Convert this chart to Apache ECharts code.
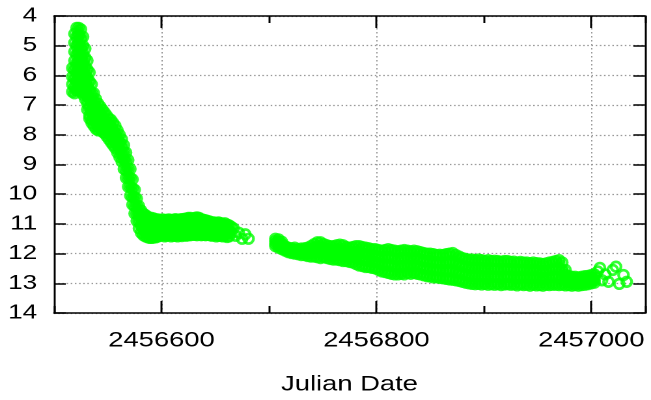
<!DOCTYPE html>
<html>
<head>
<meta charset="utf-8">
<script src="https://cdn.jsdelivr.net/npm/echarts@6/dist/echarts.min.js"></script>
<style>
  html, body { margin: 0; padding: 0; background: #fff; overflow: hidden; }
  /* the original plot is stretched sideways, so draw narrow and widen */
  #chart { width: 500px; height: 400px; transform: scaleX(1.302); transform-origin: 0 0; }
</style>
</head>
<body>
<div id="chart"></div>
<script>
// tick values
const xMajorTicks = [2456600, 2456800, 2457000];

// outburst peak and decline: one date, several magnitudes seen that night
const riseJd = [2456517, 2456519, 2456521, 2456523, 2456525, 2456527, 2456529, 2456531, 2456533,
  2456535, 2456537, 2456539, 2456541, 2456543, 2456545, 2456547, 2456549, 2456551, 2456553,
  2456555, 2456557, 2456559, 2456561, 2456563, 2456565, 2456567, 2456569, 2456571, 2456573,
  2456575, 2456577, 2456579, 2456581, 2456583, 2456585, 2456587, 2456589, 2456591, 2456593, 2456595];
const riseMag = [
  [5.75, 6.05, 6.3, 6.55],
  [4.6, 4.9, 5.2, 5.5, 5.8, 6.1, 6.4, 6.6],
  [4.4, 4.7, 5.0, 5.3, 5.6, 5.9, 6.2, 6.5],
  [4.4, 4.65, 4.95, 5.25, 5.55, 5.85, 6.15, 6.45],
  [4.45, 4.75, 5.05, 5.35, 5.65, 5.95, 6.25, 6.55],
  [4.7, 5.0, 5.3, 5.6, 5.9, 6.2, 6.5, 6.65],
  [5.1, 5.4, 5.7, 6.0, 6.3, 6.6, 6.8],
  [5.5, 5.8, 6.1, 6.4, 6.7, 6.95, 7.15],
  [5.9, 6.2, 6.5, 6.8, 7.1, 7.35, 7.45],
  [6.3, 6.6, 6.9, 7.2, 7.5, 7.6],
  [6.6, 6.85, 7.1, 7.4, 7.7],
  [6.8, 7.05, 7.3, 7.55, 7.8],
  [6.95, 7.2, 7.45, 7.7, 7.85],
  [7.05, 7.3, 7.55, 7.8],
  [7.15, 7.4, 7.65, 7.9],
  [7.25, 7.5, 7.75, 7.95],
  [7.35, 7.6, 7.85, 8.05],
  [7.45, 7.7, 7.95, 8.15],
  [7.5, 7.75, 8.0, 8.25],
  [7.6, 7.85, 8.1, 8.35],
  [7.7, 7.95, 8.2, 8.45],
  [7.85, 8.1, 8.35, 8.6],
  [8.0, 8.25, 8.5, 8.75],
  [8.15, 8.4, 8.65, 8.9],
  [8.35, 8.6, 8.85, 9.15],
  [8.6, 8.9, 9.2, 9.45],
  [8.85, 9.15, 9.45, 9.75],
  [9.15, 9.45, 9.75, 10.05],
  [9.5, 9.8, 10.1, 10.35],
  [9.85, 10.1, 10.4, 10.65],
  [10.15, 10.4, 10.65, 10.9],
  [10.4, 10.65, 10.9, 11.15],
  [10.55, 10.8, 11.05, 11.3],
  [10.65, 10.9, 11.15, 11.38],
  [10.7, 10.95, 11.2, 11.42],
  [10.75, 11.0, 11.25, 11.45],
  [10.8, 11.05, 11.3, 11.47],
  [10.8, 11.05, 11.3, 11.47],
  [10.82, 11.08, 11.32, 11.46],
  [10.85, 11.1, 11.35, 11.45]
];

// plateau near mag 11
const plateauJd = [2456597, 2456599, 2456601, 2456603, 2456605, 2456607, 2456609, 2456611, 2456613, 2456615,
  2456617, 2456619, 2456621, 2456623, 2456625, 2456627, 2456629, 2456631, 2456633, 2456635,
  2456637, 2456639, 2456641, 2456643, 2456645, 2456647, 2456649, 2456651, 2456653, 2456655,
  2456657, 2456659, 2456661, 2456663, 2456665];
const plateauMag = [
  [10.85, 11.12, 11.42], [10.88, 11.15, 11.4], [10.85, 11.1, 11.38], [10.87, 11.18, 11.42], [10.86, 11.12, 11.4],
  [10.85, 11.15, 11.38], [10.87, 11.12, 11.42], [10.86, 11.17, 11.4], [10.84, 11.1, 11.4], [10.86, 11.15, 11.42],
  [10.85, 11.12, 11.39], [10.84, 11.16, 11.41], [10.83, 11.1, 11.38], [10.82, 11.12, 11.4], [10.8, 11.08, 11.38],
  [10.8, 11.1, 11.38], [10.82, 11.12, 11.36], [10.8, 11.05, 11.37], [10.78, 11.1, 11.38], [10.8, 11.08, 11.36],
  [10.84, 11.12, 11.38], [10.86, 11.1, 11.37], [10.88, 11.14, 11.38], [10.9, 11.12, 11.37], [10.92, 11.15, 11.38],
  [10.95, 11.18, 11.4], [10.95, 11.16, 11.38], [10.97, 11.2, 11.42], [10.95, 11.18, 11.4], [10.97, 11.2, 11.4],
  [11.0, 11.22, 11.42], [10.98, 11.2, 11.4], [11.02, 11.25, 11.44], [11.05, 11.25, 11.42], [11.1, 11.3]
];

// scattered points after the plateau, before the seasonal gap
const lateJd = [2456667, 2456669, 2456672, 2456675, 2456678, 2456681];
const lateMag = [11.15, 11.4, 11.3, 11.5, 11.35, 11.5];

// slow fade after the gap: four magnitudes per date
const tailJd = [2456706, 2456709, 2456712, 2456715, 2456718, 2456721, 2456724, 2456727, 2456730, 2456733,
  2456736, 2456739, 2456742, 2456745, 2456748, 2456751, 2456754, 2456757, 2456760, 2456763,
  2456766, 2456769, 2456772, 2456775, 2456778, 2456781, 2456784, 2456787, 2456790, 2456793,
  2456796, 2456799, 2456802, 2456805, 2456808, 2456811, 2456814, 2456817, 2456820, 2456823,
  2456826, 2456829, 2456832, 2456835, 2456838, 2456841, 2456844, 2456847, 2456850, 2456853,
  2456856, 2456859, 2456862, 2456865, 2456868, 2456871, 2456874, 2456877, 2456880, 2456883,
  2456886, 2456889, 2456892, 2456895, 2456898, 2456901, 2456904, 2456907, 2456910, 2456913,
  2456916, 2456919, 2456922, 2456925, 2456928, 2456931, 2456934, 2456937, 2456940, 2456943,
  2456946, 2456949, 2456952, 2456955, 2456958, 2456961, 2456964, 2456967, 2456970, 2456973,
  2456976, 2456979, 2456982, 2456985, 2456988, 2456991, 2456994, 2456997, 2457000, 2457003];
const tailMag = [
  [11.5, 11.58, 11.67, 11.75], [11.52, 11.6, 11.7, 11.8], [11.6, 11.68, 11.77, 11.85], [11.75, 11.8, 11.86, 11.9],
  [11.8, 11.85, 11.9, 11.95], [11.82, 11.87, 11.93, 11.98], [11.8, 11.87, 11.94, 12.0], [11.85, 11.9, 11.96, 12.02],
  [11.83, 11.9, 11.98, 12.05], [11.82, 11.9, 11.98, 12.05], [11.8, 11.9, 11.99, 12.08], [11.75, 11.87, 11.98, 12.1],
  [11.68, 11.82, 11.96, 12.1], [11.62, 11.79, 11.95, 12.12], [11.62, 11.8, 11.97, 12.15], [11.68, 11.83, 11.97, 12.12],
  [11.72, 11.86, 12.01, 12.15], [11.75, 11.89, 12.04, 12.18], [11.75, 11.9, 12.05, 12.2], [11.72, 11.88, 12.04, 12.2],
  [11.7, 11.87, 12.05, 12.22], [11.72, 11.9, 12.07, 12.25], [11.78, 11.94, 12.09, 12.25], [11.8, 11.96, 12.12, 12.28],
  [11.78, 11.96, 12.13, 12.3], [11.75, 11.95, 12.15, 12.35], [11.75, 11.97, 12.18, 12.4], [11.78, 11.99, 12.2, 12.42],
  [11.8, 12.02, 12.23, 12.45], [11.82, 12.03, 12.24, 12.45], [11.85, 12.06, 12.27, 12.48], [11.85, 12.07, 12.28, 12.5],
  [11.88, 12.1, 12.33, 12.55], [11.9, 12.13, 12.37, 12.6], [11.88, 12.13, 12.37, 12.62], [11.85, 12.12, 12.38, 12.65],
  [11.88, 12.15, 12.41, 12.68], [11.9, 12.17, 12.43, 12.7], [11.92, 12.18, 12.44, 12.7], [11.9, 12.16, 12.42, 12.68],
  [11.88, 12.15, 12.43, 12.7], [11.9, 12.15, 12.4, 12.65], [11.92, 12.17, 12.43, 12.68], [11.9, 12.15, 12.4, 12.65],
  [11.92, 12.17, 12.42, 12.68], [11.95, 12.2, 12.45, 12.7], [11.98, 12.23, 12.48, 12.73], [12.0, 12.25, 12.5, 12.76],
  [12.0, 12.26, 12.51, 12.77], [12.02, 12.28, 12.54, 12.8], [12.05, 12.3, 12.55, 12.8], [12.04, 12.3, 12.56, 12.82],
  [12.05, 12.31, 12.57, 12.83], [12.02, 12.3, 12.57, 12.85], [12.0, 12.29, 12.58, 12.87], [11.98, 12.28, 12.58, 12.88],
  [12.05, 12.33, 12.62, 12.9], [12.1, 12.37, 12.65, 12.92], [12.15, 12.42, 12.68, 12.95], [12.18, 12.45, 12.72, 12.98],
  [12.2, 12.47, 12.73, 13.0], [12.2, 12.48, 12.75, 13.02], [12.22, 12.49, 12.76, 13.03], [12.2, 12.48, 12.75, 13.02],
  [12.22, 12.5, 12.77, 13.04], [12.25, 12.51, 12.77, 13.02], [12.22, 12.5, 12.78, 13.05], [12.25, 12.51, 12.77, 13.03],
  [12.24, 12.51, 12.78, 13.05], [12.25, 12.51, 12.77, 13.03], [12.27, 12.53, 12.8, 13.06], [12.25, 12.52, 12.78, 13.04],
  [12.25, 12.51, 12.77, 13.03], [12.28, 12.54, 12.8, 13.05], [12.27, 12.53, 12.79, 13.04], [12.3, 12.56, 12.82, 13.07],
  [12.28, 12.54, 12.79, 13.04], [12.3, 12.56, 12.81, 13.06], [12.3, 12.55, 12.8, 13.05], [12.32, 12.57, 12.83, 13.08],
  [12.3, 12.55, 12.8, 13.05], [12.32, 12.57, 12.82, 13.07], [12.33, 12.58, 12.82, 13.06], [12.35, 12.6, 12.84, 13.08],
  [12.33, 12.57, 12.81, 13.05], [12.3, 12.55, 12.81, 13.06], [12.28, 12.54, 12.8, 13.05], [12.25, 12.52, 12.79, 13.05],
  [12.22, 12.5, 12.78, 13.06], [12.3, 12.55, 12.8, 13.05], [12.55, 12.72, 12.9, 13.07], [12.75, 12.85, 12.95, 13.06],
  [12.78, 12.88, 12.98, 13.08], [12.78, 12.87, 12.97, 13.06], [12.8, 12.9, 12.99, 13.08], [12.78, 12.88, 12.97, 13.06],
  [12.76, 12.86, 12.95, 13.05], [12.75, 12.85, 12.94, 13.03], [12.72, 12.82, 12.92, 13.0], [12.7, 12.8, 12.9, 12.98]
];

// last few nights
const endJd = [2457006, 2457008, 2457010, 2457013, 2457016, 2457020, 2457023, 2457026, 2457030, 2457033];
const endMag = [12.6, 12.48, 12.9, 12.7, 12.95, 12.55, 12.44, 13.02, 12.72, 12.95];

// densely observed stretches, and the sparse single nights
const dense = [];
riseJd.forEach((d, i) => riseMag[i].forEach(m => dense.push([d, m])));
plateauJd.forEach((d, i) => plateauMag[i].forEach(m => dense.push([d, m])));
tailJd.forEach((d, i) => tailMag[i].forEach(m => dense.push([d, m])));
const sparse = [];
lateJd.forEach((d, i) => sparse.push([d, lateMag[i]]));
endJd.forEach((d, i) => sparse.push([d, endMag[i]]));

const font = 'Liberation Sans';
const green = '#00ff00';
const black = { color: '#000', width: 1.5 };
const gridBox = { left: 41.5, right: 4.6, top: 16, bottom: 87 };
const xMin = 2456500, xMax = 2457050;
const plain = v => String(v);
const ring = { color: 'rgba(0,0,0,0)', borderColor: green, borderWidth: 2.4 };

const chart = echarts.init(document.getElementById('chart'), null, { devicePixelRatio: 2 });

const option = {
  animation: false,
  backgroundColor: '#fff',
  grid: [Object.assign({}, gridBox), Object.assign({}, gridBox)],
  xAxis: [{
    gridIndex: 0, type: 'value', position: 'bottom', min: xMin, max: xMax,
    axisLine: { lineStyle: black },
    axisTick: { inside: true, length: 12, customValues: xMajorTicks, lineStyle: black },
    axisLabel: { customValues: xMajorTicks, formatter: plain, margin: 17, fontSize: 21, fontFamily: font, color: '#000' },
    splitLine: { show: true, lineStyle: { color: '#999', width: 1, type: [1.5, 2.5] } },
    name: 'Julian Date', nameLocation: 'middle', nameGap: 61,
    nameTextStyle: { fontSize: 21, fontFamily: font, color: '#000' }
  }, {
    gridIndex: 0, type: 'value', position: 'top', min: xMin, max: xMax,
    axisLine: { lineStyle: black },
    axisTick: { inside: true, length: 12, customValues: xMajorTicks, lineStyle: black },
    axisLabel: { show: false }, splitLine: { show: false }
  }, {
    // minor ticks every 100 days
    gridIndex: 1, type: 'value', position: 'bottom', min: xMin, max: xMax, interval: 100,
    axisLine: { show: false },
    axisTick: { inside: true, length: 7, lineStyle: black },
    axisLabel: { show: false }, splitLine: { show: false }
  }, {
    gridIndex: 1, type: 'value', position: 'top', min: xMin, max: xMax, interval: 100,
    axisLine: { show: false },
    axisTick: { inside: true, length: 7, lineStyle: black },
    axisLabel: { show: false }, splitLine: { show: false }
  }],
  yAxis: [{
    gridIndex: 0, type: 'value', position: 'left', inverse: true, min: 4, max: 14, interval: 1,
    axisLine: { lineStyle: black },
    axisTick: { inside: true, length: 9, lineStyle: black },
    axisLabel: { margin: 13, fontSize: 20, fontFamily: font, color: '#000' },
    splitLine: { show: true, lineStyle: { color: '#999', width: 1.2, type: [1.2, 2] } }
  }, {
    gridIndex: 0, type: 'value', position: 'right', inverse: true, min: 4, max: 14, interval: 1,
    axisLine: { lineStyle: black },
    axisTick: { inside: true, length: 9, lineStyle: black },
    axisLabel: { show: false }, splitLine: { show: false }
  }, {
    gridIndex: 1, type: 'value', inverse: true, min: 4, max: 14, show: false
  }],
  series: [{
    // overplotted rings merge into a solid band: fill their middles
    type: 'scatter', xAxisIndex: 0, yAxisIndex: 0,
    data: dense, symbol: 'circle', symbolSize: [5, 6.4],
    itemStyle: { color: green }, progressive: 0, silent: true
  }, {
    type: 'scatter', xAxisIndex: 0, yAxisIndex: 0,
    data: dense, symbol: 'circle', symbolSize: [7.6, 9.6],
    itemStyle: ring, progressive: 0, silent: true
  }, {
    type: 'scatter', xAxisIndex: 0, yAxisIndex: 0,
    data: sparse, symbol: 'circle', symbolSize: [7.6, 9.6],
    itemStyle: ring, progressive: 0, silent: true
  }]
};

chart.setOption(option);
</script>
</body>
</html>
